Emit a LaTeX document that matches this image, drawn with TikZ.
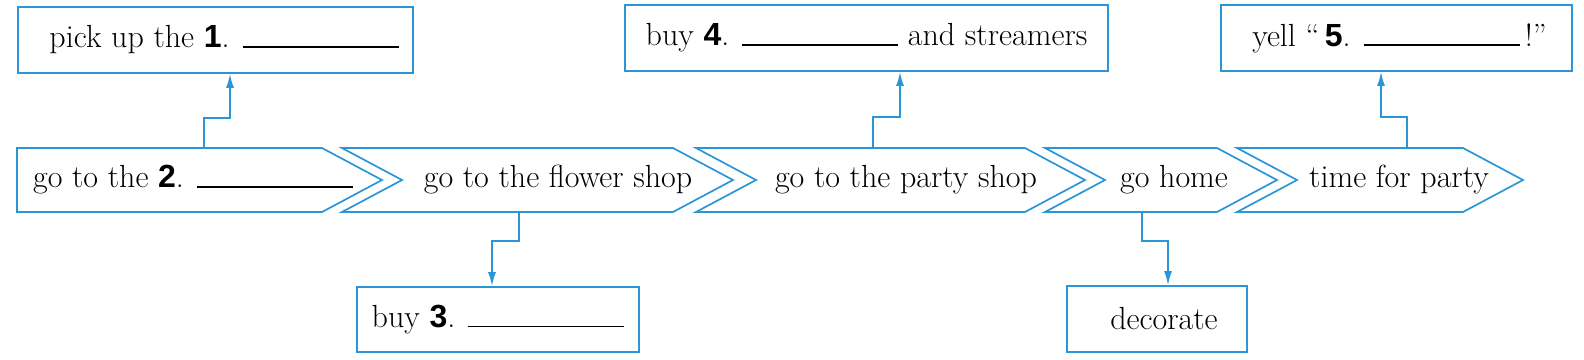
\documentclass[tikz,border=0pt]{standalone}
\usepackage{fontspec}
\newfontfamily\numfont{Liberation Sans}
\usetikzlibrary{arrows.meta}
\definecolor{lineblue}{RGB}{42,150,216}
\newcommand{\myblank}{\rule{156pt}{1.8pt}}
\newcommand{\mynum}[1]{{\numfont\bfseries #1}}
\begin{document}
\begin{tikzpicture}[x=1pt,y=-1pt,
  txt/.style={font=\fontsize{32}{38}\selectfont},
  box/.style={txt,draw=lineblue,line width=1.7pt,inner sep=0pt,minimum height=66pt},
  chev/.style={draw=lineblue,line width=1.7pt,line join=miter},
  body/.style={txt,inner sep=0pt,minimum height=64pt},
  conn/.style={draw=lineblue,line width=1.7pt,-{Latex[length=14pt,width=8pt]}}]
\useasboundingbox (0,0) rectangle (1584,359);
% chevrons
\draw[chev] (17,148) -- (322,148) -- (382,180) -- (322,212) -- (17,212) -- cycle;
\draw[chev] (342,148) -- (673,148) -- (733,180) -- (673,212) -- (342,212) -- (402,180) -- cycle;
\draw[chev] (696,148) -- (1025,148) -- (1085,180) -- (1025,212) -- (696,212) -- (756,180) -- cycle;
\draw[chev] (1045,148) -- (1217,148) -- (1277,180) -- (1217,212) -- (1045,212) -- (1105,180) -- cycle;
\draw[chev] (1237,148) -- (1463,148) -- (1523,180) -- (1463,212) -- (1237,212) -- (1297,180) -- cycle;
\node[body] (s1) at (193,180) {go to the \mynum{2}. \myblank};
\node[body] (s2) at (558,180) {go to the flower shop};
\node[body] (s3) at (906,180) {go to the party shop};
\node[body] (s4) at (1174,180) {go home};
\node[body] (s5) at (1399,180) {time for party};
% boxes
\node[box,minimum width=395pt] (b1) at (215.5,40) {\hspace*{17pt}pick up the \mynum{1}. \myblank};
\node[box,minimum width=483pt] (b4) at (866.5,38) {buy \mynum{4}. \myblank\ and streamers};
\node[box,minimum width=351pt] (b5) at (1396.5,38) {\hspace*{6pt}yell ``\,\mynum{5}. \myblank\,!''};
\node[box,minimum width=282pt,minimum height=65pt] (b3) at (498,319.5) {buy \mynum{3}. \myblank};
\node[box,minimum width=180pt] (bd) at (1157,319) {\hspace*{14pt}decorate};
% connectors
\draw[conn] ([xshift=11pt]s1.north) -- ++(0,-30) -| ([xshift=14.5pt]b1.south);
\draw[conn] ([xshift=-33pt]s3.north) -- ++(0,-31) -| ([xshift=33.5pt]b4.south);
\draw[conn] ([xshift=8pt]s5.north) -- ++(0,-31) -| ([xshift=-15.5pt]b5.south);
\draw[conn] ([xshift=-39pt]s2.south) -- ++(0,29) -| ([xshift=-6pt]b3.north);
\draw[conn] ([xshift=-32pt]s4.south) -- ++(0,29) -| ([xshift=11pt]bd.north);
\end{tikzpicture}
\end{document}
